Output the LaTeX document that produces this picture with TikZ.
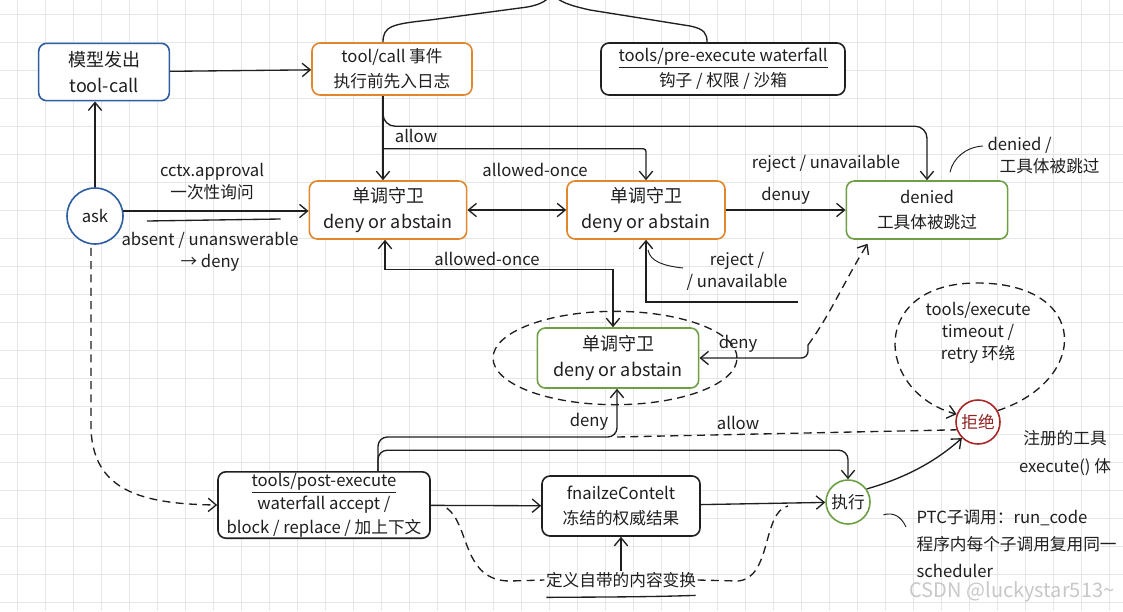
\documentclass[tikz,border=0pt]{standalone}
\usepackage{fontspec}
\setmainfont{Noto Sans CJK SC}
\usetikzlibrary{arrows.meta,positioning,calc,shapes.geometric}
\definecolor{cBlue}{HTML}{2E5EA0}
\definecolor{cOrng}{HTML}{E0862B}
\definecolor{cGrn}{HTML}{6E9F45}
\definecolor{cRed}{HTML}{A82828}
\definecolor{cInk}{HTML}{1F1F1F}
\definecolor{cGrid}{HTML}{E6E6E6}
\definecolor{cMark}{HTML}{C8C8C8}
\newcommand{\hw}{\fontsize{12.5}{19}\selectfont}
\newcommand{\hwb}{\fontsize{13.5}{19.5}\selectfont}
\tikzset{
  >={Straight Barb[length=6pt,width=10pt]},
  box/.style   ={rounded corners=6pt,draw=cInk,line width=1.2pt,fill=white,
                 align=center,inner sep=2pt,font=\hw,text=cInk},
  bbox/.style  ={box,draw=cBlue},
  obox/.style  ={box,draw=cOrng},
  gbox/.style  ={box,draw=cGrn},
  circ/.style  ={circle,line width=1.2pt,fill=white,font=\hw,text=cInk,inner sep=0pt},
  big/.style   ={font=\hwb},
  tight/.style ={font=\fontsize{12.5}{16.5}\selectfont},
  loose/.style ={font=\fontsize{12.5}{20.5}\selectfont},
  ar/.style    ={->,line width=1pt,cInk},
  ln/.style    ={line width=1pt,cInk},
  dl/.style    ={line width=1pt,cInk,dash pattern=on 6pt off 4pt},
  lbl/.style   ={font=\hw,text=cInk,align=center,inner sep=1pt},
  gridln/.style={cGrid,line width=0.6pt},
}

\begin{document}
\begin{tikzpicture}[x=0.75pt,y=-0.75pt]
\fill[white] (0,0) rectangle (1123,611);
\useasboundingbox (0,0) rectangle (1123,611);
\clip (0,0) rectangle (1123,611);
% grid paper
\foreach \gx in {17,45,...,1123} \draw[gridln] (\gx,0) -- (\gx,611);
\foreach \gy in {14,42,...,611} \draw[gridln] (0,\gy) -- (1123,\gy);

% top row
\node[bbox,big,minimum width=98pt,minimum height=43pt] (model) at (104,72) {模型发出\\tool-call};
\node[obox,minimum width=120pt,minimum height=39pt] (evt) at (392,69) {tool/call 事件\\执行前先入日志};
\node[box,minimum width=183pt,minimum height=39pt] (pre) at (723,69) {\underline{tools/pre-execute waterfall}\\钩子 / 权限 / 沙箱};
\coordinate (tip) at (552,-6);

% guards row
\node[circ,draw=cBlue,minimum size=42pt] (ask) at (95,216) {ask};
\node[obox,big,minimum width=118pt,minimum height=43.5pt] (g1) at (388,210) {单调守卫\\deny or abstain};
\node[obox,big,minimum width=118.5pt,minimum height=43.5pt] (g2) at (646,210) {单调守卫\\deny or abstain};
\node[gbox,minimum width=121pt,minimum height=43.5pt] (denied) at (927,210) {denied\\工具体被跳过};
\node[lbl,tight,anchor=west,align=left] (dnote) at (986,156) {denied /\\\hspace{9pt}工具体被跳过};

% inner guard with dashed ring
\node[ellipse,dl,draw,minimum width=183pt,minimum height=70pt] (ring) at (615,358) {};
\node[gbox,big,minimum width=121pt,minimum height=45pt] (g3) at (618,358) {单调守卫\\deny or abstain};

% right side
\node[circ,draw=cRed,text=cRed!85!black,minimum size=33pt] (rej) at (978,422) {拒绝};
\node[lbl,tight] (loopTxt) at (978,333) {tools/execute\\timeout /\\retry 环绕};
\node[lbl,loose] (regTxt) at (1065,453) {注册的工具\\execute() 体};

% bottom row
\node[box,font=\fontsize{12.5}{17.5}\selectfont,minimum width=159pt,minimum height=49.5pt,inner sep=1pt] (post) at (324,505) {\underline{tools/post-execute}\\waterfall accept /\\block / replace / 加上下文};
\node[box,minimum width=118.5pt,minimum height=45pt] (fin) at (621,506) {fnailzeContelt\\冻结的权威结果};
\node[circ,draw=cGrn,minimum size=33pt] (exec) at (848,502) {执行};
\node[lbl] (xform) at (621,580) {定义自带的内容变换};
\node[lbl,loose,anchor=north west,align=left] (ptc) at (915,508) {PTC子调用：run\_code\\程序内每个子调用复用同一\\scheduler};
\node[lbl,text=cMark,font=\fontsize{15}{17}\selectfont] (mark) at (1012,592) {CSDN @luckystar513\textasciitilde};

\coordinate (evtFoot) at ($(evt.south)+(-9,0)$);
\coordinate (postTop) at ($(post.north)+(54,0)$);
\coordinate (denyTurn) at (617,437);
\coordinate (dnCorner) at (808,345);
\coordinate (rjEnd) at (798,302);
\coordinate (dlEnd) at (788,506);

% brace over the two log steps
\draw[ln] ($(evt.north)+(-9,0)$) .. controls (383,26) and (392,24) .. (430,20) -- (520,8) .. controls (538,6) and (546,2) .. (tip);
\draw[ln] (tip) .. controls (560,2) and (568,5) .. (590,10) -- (690,26) .. controls (705,29) and (707,34) .. ($(pre.north)+(-16,0)$);

\draw[ar] (model) -- (evt);
\draw[ar] (ask.north) -- (ask.north |- model.south);
\draw[ar] (ask.10) -- (ask.10 -| g1.west);
\node[lbl,tight] (apprLbl) at (212,182) {cctx.approval\\一次性询问};
\draw[ln] ($(ask.east)+(23,5)$) -- ($(g1.west)+(-28,9)$);
\node[lbl,tight] (absLbl) at (210,252) {absent / unanswerable\\→ deny};

\draw[ar] (evtFoot) -- (evtFoot |- g1.north);
\node[lbl] (allowLbl) at (416,136) {allow};
\draw[ar,rounded corners=9pt] ($(evtFoot)+(0,8)$) |- ($(denied.north)+(-230,-54)$) -| (denied.north);
\node[lbl] (rejLbl) at (826,164) {reject / unavailable};
\draw[ar,rounded corners=2pt] ($(evtFoot)+(0,53)$) -| (g2.north);

\draw[ar,<->] (g1) -- (g2);
\node[lbl] (onceLbl) at (535,170) {allowed-once};
\draw[ar] (g2) -- (denied) node[lbl,midway,above=3pt] (denuyLbl) {denuy};

\draw[ar,<->] ($(g1.south)+(-3,0)$) |- ($(g3.north)+(-5,-58)$) -- ($(g3.north)+(-5,0)$);
\node[lbl] (once2Lbl) at (487,259) {allowed-once};

\draw[ar] (rjEnd) -| (g2.south);
\node[lbl,tight] (rej2Lbl) at (737,271) {reject /\\/ unavailable};
\draw[ln,line width=0.7pt] ($(g2.south)+(2,10)$) .. controls (650,262) and (665,266) .. ($(rej2Lbl.west)+(-2,-3)$);

\draw[dl,->] (dnCorner) .. controls (830,315) and (845,280) .. ($(denied.south west)+(22,4)$);
\draw[ar,rounded corners=5pt] (dnCorner) |- (g3.east);
\node[lbl] (deny1Lbl) at (738,344) {deny};

\draw[ar,rounded corners=7pt] (postTop) |- (denyTurn) -- (denyTurn |- g3.south);
\node[lbl] (deny2Lbl) at (589,422) {deny};
\draw[ar,rounded corners=7pt] (postTop) |- ($(exec.north)+(0,-29)$) -- (exec.north);
\draw[dl] (denyTurn) -- (rej.200);
\node[lbl] (allow2Lbl) at (738,423) {allow};

\draw[dl,->] (rej.30) .. controls (1090,380) and (1090,283) .. (977,283) .. controls (868,283) and (875,392) .. (rej.160);
\draw[ar] (exec.35) .. controls (905,478) and (935,462) .. (rej.225);

\draw[dl,->] ($(ask.south)+(-4,3)$) -- (91,430) .. controls (94,490) and (140,504) .. (post.west);
\draw[ar] (post) -- (fin);
\draw[ar] (fin) -- (exec);
\draw[ar] (xform) -- (fin);
\draw[ln] ($(xform.south west)+(2,8)$) .. controls (600,597) and (650,597) .. ($(xform.south east)+(-2,6)$);
\draw[dl] ($(post.east)+(16,3)$) .. controls (470,525) and (462,581) .. (510,581) -- (xform.west);
\draw[dl] (xform.east) -- (738,581) .. controls (772,578) and (762,512) .. (dlEnd);

% small leader ticks
\draw[ln,line width=0.7pt] ($(denied.north)+(23,-8)$) .. controls (953,158) and (966,147) .. (983,146);
\draw[ln,line width=0.7pt] ($(exec.-20)+(14,5)$) .. controls (893,512) and (901,516) .. (906,527);
\end{tikzpicture}
\end{document}
